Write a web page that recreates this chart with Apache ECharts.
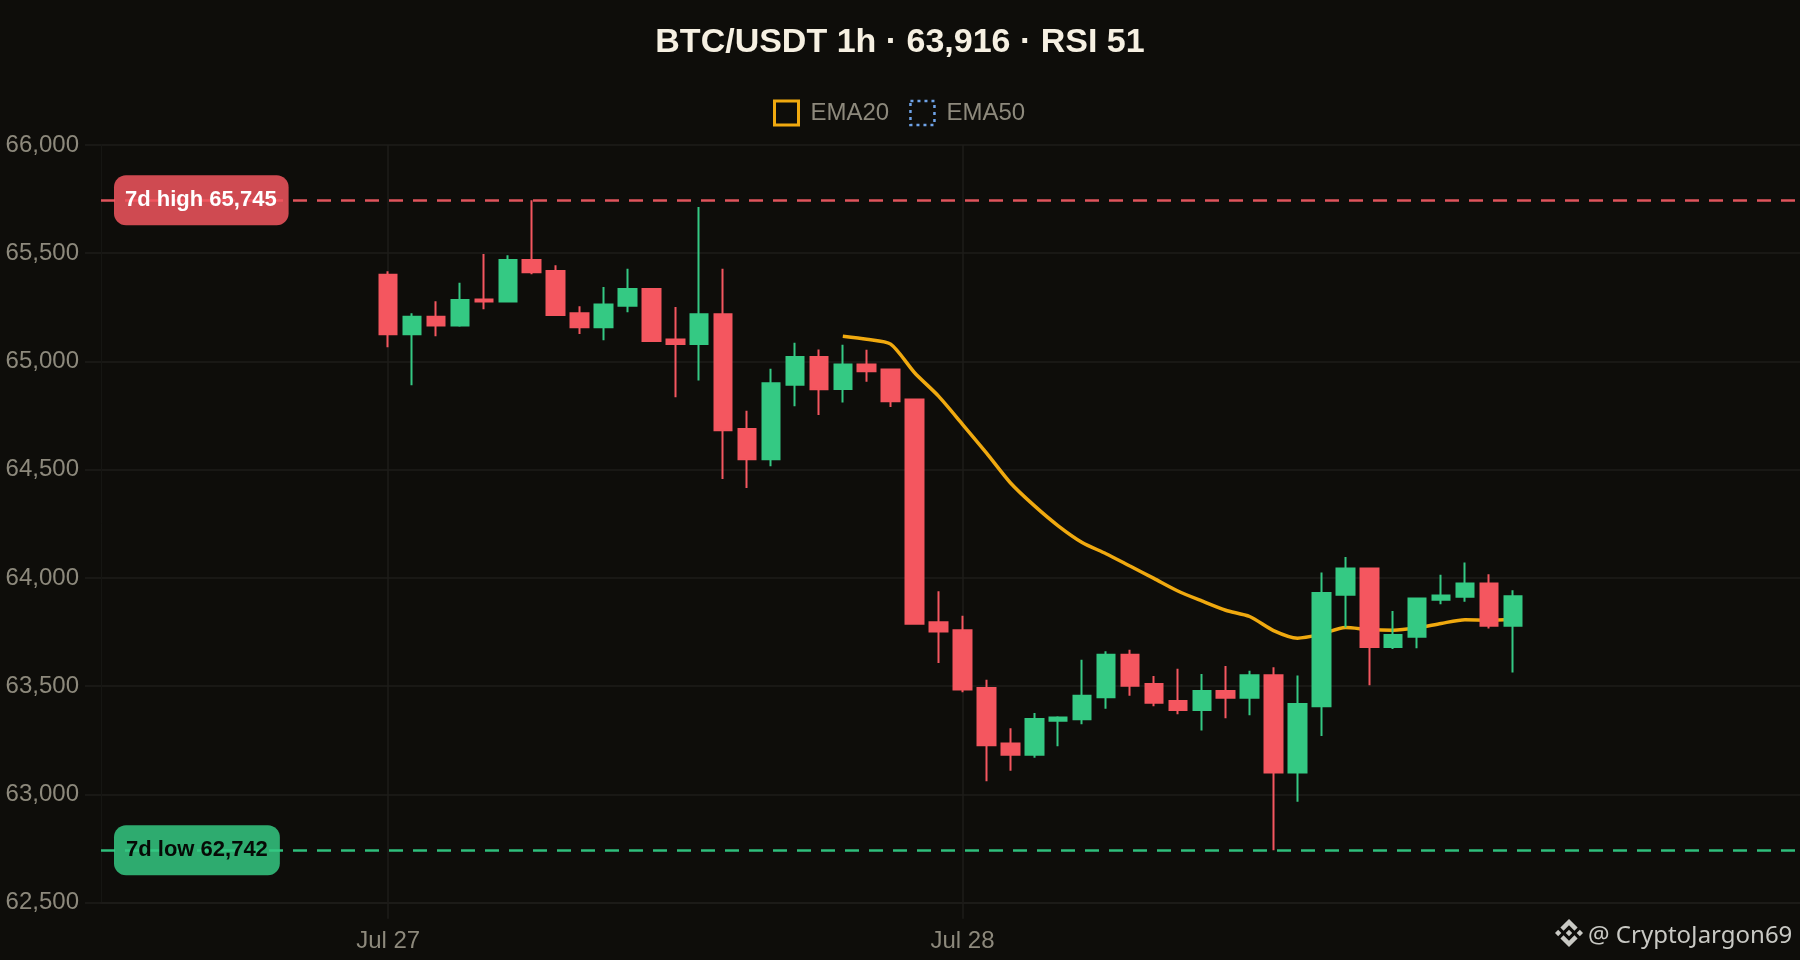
<!DOCTYPE html>
<html><head><meta charset="utf-8">
<style>html,body{margin:0;padding:0;background:#0e0d0a}#c{width:1800px;height:960px}</style>
<script src="https://cdn.jsdelivr.net/npm/echarts@6/dist/echarts.min.js"></script>
</head><body><div id="c"></div>
<script>
const titleText = 'BTC/USDT 1h · 63,916 · RSI 51';
const yTicks = [62500, 66000, 500];
const high7d = 65745, low7d = 62742;
const high7dLabel = '7d high 65,745', low7dLabel = '7d low 62,742';
const tickDays = ['Jul 27', 'Jul 28'];

const opens  = [65401,65126,65207,65166,65286,65277,65469,65418,65223,65158,65257,65335,65101,65081,65218,64688,64548,64893,65021,64873,64986,64963,64824,63796,63759,63492,63235,63183,63340,63347,63449,63645,63510,63432,63390,63478,63447,63551,63101,63408,63923,64044,63681,63728,63899,63913,63974,63779];
const closes = [65126,65207,65166,65284,65277,65469,65412,65215,65158,65263,65335,65095,65081,65218,64682,64548,64899,65021,64872,64986,64955,64816,63788,63753,63485,63227,63183,63349,63356,63456,63645,63502,63424,63390,63478,63447,63551,63101,63418,63931,64044,63681,63736,63905,63919,63974,63779,63916];
const lows   = [65066,64890,65117,65160,65241,65275,65403,65214,65127,65098,65227,65090,64835,64912,64457,64416,64516,64793,64753,64810,64906,64790,63788,63607,63472,63061,63109,63169,63223,63324,63396,63456,63407,63370,63295,63352,63366,62742,62966,63270,63771,63505,63672,63675,63879,63890,63767,63563];
const highs  = [65417,65223,65278,65364,65497,65491,65745,65445,65255,65344,65428,65335,65252,65714,65428,64772,64967,65086,65055,65077,65054,64963,64824,63939,63826,63530,63306,63376,63361,63622,63662,63668,63547,63581,63556,63593,63571,63588,63550,64025,64097,64044,63847,63905,64015,64071,64017,63943];
const ema20  = [65117,65103,65080,64948,64840,64710,64578,64440,64334,64241,64164,64112,64055,63998,63940,63894,63851,63822,63757,63722,63741,63771,63762,63759,63770,63790,63807,63805,63808];

const pad = n => String(n).padStart(2, '0');
const categories = [];
for (let h = 12; h < 24; h++) categories.push('Jul 26 ' + pad(h) + ':00');
for (let h = 0; h < 24; h++) categories.push('Jul 27 ' + pad(h) + ':00');
for (let h = 0; h < 24; h++) categories.push('Jul 28 ' + pad(h) + ':00');
for (let h = 0; h < 12; h++) categories.push('Jul 29 ' + pad(h) + ':00');
const firstCandle = categories.indexOf('Jul 27 00:00');
const firstEma = firstCandle + 19;

const candleData = categories.map((c, k) => {
  const i = k - firstCandle;
  return i >= 0 && i < opens.length ? [opens[i], closes[i], lows[i], highs[i]] : ['-', '-', '-', '-'];
});
const emaData = categories.map((c, k) => {
  const i = k - firstEma;
  return i >= 0 && i < ema20.length ? ema20[i] : '-';
});

const isDayTick = (i, v) => tickDays.includes(v.slice(0, 6)) && v.endsWith(' 00:00');
const RED = '#f4565f', GREEN = '#34c983', GRID = '#1e1d1a', MUTED = '#8d897c', MARK = '#c9c9c4';
const logoShapes = [
  [[38.73,53.2],[63.32,28.62],[87.92,53.22],[102.22,38.91],[63.32,0],[24.43,38.9]],
  [[0,63.31],[14.3,49],[28.61,63.31],[14.3,77.61]],
  [[38.73,73.41],[63.32,98],[87.92,73.4],[102.23,87.69],[63.33,126.6],[24.42,87.7]],
  [[98.04,63.32],[112.34,49.01],[126.65,63.31],[112.34,77.63]],
  [[77.83,63.31],[63.32,48.78],[48.81,63.28],[63.32,77.78]]
];

const chart = echarts.init(document.getElementById('c'), null, {renderer: 'canvas'});
chart.setOption({
  animation: false,
  backgroundColor: '#0e0d0a',
  textStyle: {fontFamily: '"Liberation Sans", Arial, sans-serif'},
  title: {
    text: titleText, left: 'center', top: 21,
    textStyle: {color: '#f6f0e2', fontSize: 34, fontWeight: 'bold', fontFamily: '"Liberation Sans"'}
  },
  legend: {
    top: 94.5, left: 768, itemWidth: 24, itemHeight: 24, itemGap: 20,
    textStyle: {color: MUTED, fontSize: 24, fontFamily: '"Liberation Sans"', padding: [0, 0, 0, 7]},
    data: [
      {name: 'EMA20', icon: 'rect', itemStyle: {color: 'transparent', borderColor: '#f0a90f', borderWidth: 3}},
      {name: 'EMA50', icon: 'rect', itemStyle: {color: 'transparent', borderColor: '#6fa3e8', borderWidth: 2.5, borderType: [3, 4]}}
    ]
  },
  grid: {left: 101, right: 0, top: 145, bottom: 57.3},
  xAxis: {
    type: 'category', data: categories, boundaryGap: false,
    axisLine: {show: true, lineStyle: {color: GRID, width: 1.5}},
    axisTick: {show: true, length: 16, interval: isDayTick, lineStyle: {color: GRID, width: 1.5}},
    splitLine: {show: true, interval: isDayTick, lineStyle: {color: GRID, width: 1.5}},
    axisLabel: {interval: isDayTick, formatter: v => v.slice(0, 6), color: MUTED, fontSize: 24, margin: 27, fontFamily: '"Liberation Sans"'}
  },
  yAxis: {
    type: 'value', min: yTicks[0], max: yTicks[1], interval: yTicks[2], scale: true,
    axisLine: {show: true, lineStyle: {color: '#161613', width: 1}},
    axisTick: {show: true, length: 16, lineStyle: {color: GRID, width: 1.5}},
    splitLine: {show: true, lineStyle: {color: GRID, width: 1.5}},
    axisLabel: {color: MUTED, fontSize: 24, margin: 22, fontFamily: '"Liberation Sans"', formatter: v => v.toLocaleString('en-US')}
  },
  series: [
    {
      type: 'candlestick', name: 'BTC/USDT', barWidth: 18,
      itemStyle: {color: GREEN, color0: RED, borderColor: GREEN, borderColor0: RED, borderWidth: 2},
      data: candleData,
      markLine: {
        silent: true, symbol: 'none', animation: false,
        data: [
          {yAxis: high7d, lineStyle: {color: '#e0545c', type: [14, 10], width: 2.5},
           label: {show: true, position: 'insideStart', distance: 13, formatter: high7dLabel, color: '#ffffff', fontSize: 22, fontWeight: 'bold', fontFamily: '"Liberation Sans"', backgroundColor: 'rgba(244,86,95,0.84)', borderRadius: 12, padding: [14, 12, 14, 11]}},
          {yAxis: low7d, lineStyle: {color: '#2fbf7c', type: [14, 10], width: 2.5},
           label: {show: true, position: 'insideStart', distance: 13, formatter: low7dLabel, color: '#060a06', fontSize: 22, fontWeight: 'bold', fontFamily: '"Liberation Sans"', backgroundColor: 'rgba(52,201,131,0.84)', borderRadius: 12, padding: [14, 12, 14, 12]}}
        ]
      }
    },
    {
      type: 'line', name: 'EMA20', data: emaData, showSymbol: false, smooth: 0.25,
      lineStyle: {color: '#f0a90f', width: 3.5}, itemStyle: {color: '#f0a90f'}, z: 1
    },
    {type: 'line', name: 'EMA50', data: [], showSymbol: false, lineStyle: {color: '#6fa3e8', width: 2}, itemStyle: {color: '#6fa3e8'}}
  ],
  graphic: [
    {type: 'group', x: 1555, y: 919, scaleX: 0.2212, scaleY: 0.2212, silent: true,
     children: logoShapes.map(points => ({type: 'polygon', shape: {points}, style: {fill: MARK}}))},
    {type: 'text', x: 1588, y: 924, style: {text: '@ CryptoJargon69', fill: MARK, fontSize: 24, fontFamily: '"Noto Sans"'}, silent: true}
  ]
});
</script></body></html>
